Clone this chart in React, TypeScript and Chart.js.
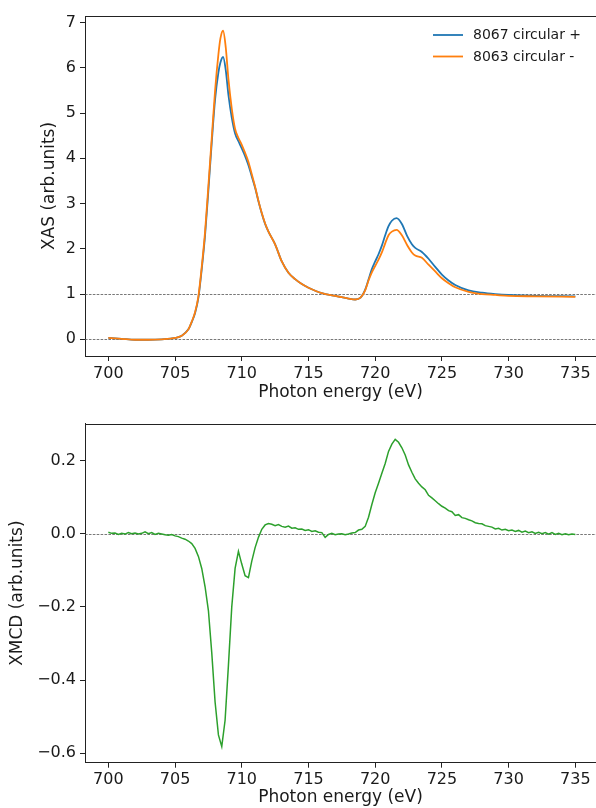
import { useEffect, useRef } from "react";
import { Chart, registerables } from "chart.js";

Chart.register(...registerables);
Chart.defaults.font.family = "'DejaVu Sans', sans-serif";
Chart.defaults.font.size = 16;
Chart.defaults.color = "#1a1a1a";

// ---------- data ----------
const xasEnergy = [
  700, 701, 702, 703, 704, 705, 705.5, 706, 706.25, 706.5, 706.75, 707, 707.25, 707.5, 707.75,
  708, 708.25, 708.4, 708.6, 708.8, 709, 709.25, 709.5, 709.75, 710, 710.25, 710.5, 710.75,
  711, 711.25, 711.5, 711.75, 712, 712.5, 713, 713.5, 714, 714.5, 715, 716, 717, 717.5, 718,
  718.5, 718.9, 719.25, 719.5, 719.75, 720, 720.25, 720.5, 720.75, 721, 721.25, 721.6, 722,
  722.4, 722.75, 723, 723.5, 724, 724.5, 725, 725.5, 726, 727, 728, 729, 730, 732, 735,
];
const xasPlus = [
  0.03, 0.01, -0.01, -0.01, 0.0, 0.03, 0.08, 0.22, 0.38, 0.58, 0.92, 1.55, 2.3, 3.3, 4.35,
  5.3, 5.9, 6.12, 6.24, 5.95, 5.4, 4.9, 4.55, 4.38, 4.22, 4.05, 3.85, 3.6,
  3.35, 3.05, 2.78, 2.55, 2.38, 2.1, 1.72, 1.47, 1.33, 1.22, 1.14, 1.02, 0.96, 0.93, 0.9,
  0.88, 0.92, 1.1, 1.32, 1.55, 1.72, 1.88, 2.07, 2.3, 2.5, 2.62, 2.68, 2.55,
  2.28, 2.1, 2.02, 1.93, 1.78, 1.6, 1.43, 1.3, 1.2, 1.08, 1.03, 1.0, 0.98, 0.96, 0.95,
];
const xasMinus = [
  0.03, 0.01, -0.01, -0.01, 0.0, 0.03, 0.08, 0.22, 0.39, 0.6, 0.95, 1.6, 2.38, 3.4, 4.45,
  5.5, 6.3, 6.65, 6.82, 6.45, 5.75, 5.1, 4.65, 4.45, 4.3, 4.12, 3.92, 3.65,
  3.37, 3.06, 2.79, 2.56, 2.38, 2.1, 1.72, 1.47, 1.33, 1.22, 1.14, 1.02, 0.96, 0.93, 0.9,
  0.88, 0.92, 1.08, 1.3, 1.48, 1.62, 1.76, 1.92, 2.12, 2.3, 2.38, 2.42, 2.3,
  2.08, 1.92, 1.85, 1.8, 1.65, 1.5, 1.35, 1.24, 1.15, 1.05, 1.0, 0.98, 0.96, 0.95, 0.94,
];

const xmcdEnergy = [
  700, 700.25, 700.5, 700.75, 701, 701.25, 701.5, 701.75, 702, 702.25, 702.5, 702.75,
  703, 703.25, 703.5, 703.75, 704, 704.25, 704.5, 704.75, 705, 705.25, 705.5, 705.75,
  706, 706.25, 706.5, 706.75, 707, 707.25, 707.5, 707.75, 708, 708.25, 708.5, 708.75,
  709, 709.25, 709.5, 709.75, 710, 710.25, 710.5, 710.75, 711, 711.25, 711.5, 711.75,
  712, 712.25, 712.5, 712.75, 713, 713.25, 713.5, 713.75, 714, 714.25, 714.5, 714.75,
  715, 715.25, 715.5, 715.75, 716, 716.25, 716.5, 716.75, 717, 717.25, 717.5, 717.75,
  718, 718.25, 718.5, 718.75, 719, 719.25, 719.5, 719.75, 720, 720.25, 720.5, 720.75,
  721, 721.25, 721.5, 721.75, 722, 722.25, 722.5, 722.75, 723, 723.25, 723.5, 723.75,
  724, 724.25, 724.5, 724.75, 725, 725.25, 725.5, 725.75, 726, 726.25, 726.5, 726.75,
  727, 727.25, 727.5, 727.75, 728, 728.25, 728.5, 728.75, 729, 729.25, 729.5, 729.75,
  730, 730.25, 730.5, 730.75, 731, 731.25, 731.5, 731.75, 732, 732.25, 732.5, 732.75,
  733, 733.25, 733.5, 733.75, 734, 734.25, 734.5, 734.75, 735,
];
const xmcdValues = [
  0.004, 0.001, 0.002, -0.002, 0.001, -0.001, 0.003, 0.0, 0.002, -0.001, 0.001, 0.005,
  0.0, 0.003, -0.002, 0.001, -0.001, -0.003, -0.004, -0.002, -0.006, -0.008, -0.012, -0.015,
  -0.02, -0.027, -0.04, -0.062, -0.095, -0.145, -0.21, -0.325, -0.46, -0.55, -0.582, -0.51,
  -0.36, -0.2, -0.095, -0.048, -0.083, -0.115, -0.12, -0.075, -0.038, -0.01, 0.012, 0.024,
  0.028, 0.026, 0.022, 0.025, 0.02, 0.018, 0.021, 0.015, 0.016, 0.012, 0.013, 0.009,
  0.011, 0.006, 0.008, 0.004, 0.003, -0.01, -0.002, 0.001, -0.003, -0.001, 0.0, -0.003,
  -0.001, 0.002, 0.003, 0.01, 0.012, 0.02, 0.045, 0.08, 0.112, 0.138, 0.165, 0.192,
  0.225, 0.245, 0.258, 0.25, 0.235, 0.215, 0.188, 0.168, 0.15, 0.138, 0.128, 0.12,
  0.105, 0.098, 0.09, 0.082, 0.075, 0.07, 0.063, 0.06, 0.05, 0.052, 0.044, 0.042,
  0.038, 0.035, 0.03, 0.028, 0.027, 0.022, 0.02, 0.018, 0.013, 0.015, 0.01, 0.012,
  0.008, 0.01, 0.006, 0.009, 0.004, 0.007, 0.003, 0.005, 0.001, 0.004, 0.0, 0.003,
  -0.001, 0.003, -0.002, 0.001, -0.003, 0.0, -0.003, -0.001, -0.002,
];

const xTicks = [700, 705, 710, 715, 720, 725, 730, 735];
const xasYTicks = [0, 1, 2, 3, 4, 5, 6, 7];
const xmcdYTicks = [-0.6, -0.4, -0.2, 0, 0.2];
const xasRefLevels = [0, 1];
const xmcdRefLevels = [0];
const xLimits = [698.25, 736.55];
const xasYLimits = [-0.369, 7.146];
const xmcdYLimits = [-0.626, 0.301];

const seriesLabels = ["8067 circular +", "8063 circular -"];
const BLUE = "#1f77b4";
const ORANGE = "#ff7f0e";
const GREEN = "#2ca02c";
const INK = "#1a1a1a";

const pts = (xs: number[], ys: number[]) => xs.map((x, i) => ({ x, y: ys[i] }));
const fmtMinus = (v: number, digits: number) => {
  const s = Math.abs(v).toFixed(digits);
  return v < -1e-9 ? "\u2212" + s : s;
};

function makePlugin(refLevels: number[], showLegend: boolean) {
  return {
    id: "mplFrame",
    beforeDatasetsDraw(chart: any) {
      const { ctx, chartArea, scales } = chart;
      ctx.save();
      ctx.strokeStyle = "#555";
      ctx.lineWidth = 0.8;
      ctx.setLineDash([2.6, 1.3]);
      refLevels.forEach((v) => {
        const y = Math.round(scales.y.getPixelForValue(v)) + 0.5;
        ctx.beginPath();
        ctx.moveTo(chartArea.left, y);
        ctx.lineTo(chartArea.right, y);
        ctx.stroke();
      });
      ctx.restore();
    },
    afterDraw(chart: any) {
      const { ctx, chartArea } = chart;
      ctx.save();
      ctx.strokeStyle = "#222";
      ctx.lineWidth = 1;
      const t = Math.round(chartArea.top) + 0.5;
      ctx.beginPath();
      ctx.moveTo(chartArea.left, t);
      ctx.lineTo(chartArea.right, t);
      ctx.stroke();
      if (showLegend) {
        ctx.font = "14px 'DejaVu Sans', sans-serif";
        ctx.textBaseline = "middle";
        ctx.textAlign = "left";
        chart.data.datasets.forEach((ds: any, i: number) => {
          const y = chartArea.top + 19 + i * 21.5;
          ctx.strokeStyle = ds.borderColor;
          ctx.lineWidth = 1.8;
          ctx.beginPath();
          ctx.moveTo(chartArea.right - 163, y);
          ctx.lineTo(chartArea.right - 133, y);
          ctx.stroke();
          ctx.fillStyle = INK;
          ctx.fillText(ds.label, chartArea.right - 123, y + 0.5);
        });
      }
      ctx.restore();
    },
  };
}

function makeScales(opts: {
  yTicks: number[];
  yLimits: number[];
  yTitle: string;
  yTitlePad: number;
  yFmt: (v: number) => string;
  xHeight: number;
  xTitlePad: number;
}) {
  return {
    x: {
      type: "linear" as const,
      min: xLimits[0],
      max: xLimits[1],
      afterBuildTicks: (s: any) => {
        s.ticks = xTicks.map((v) => ({ value: v }));
      },
      afterFit: (s: any) => {
        s.height = opts.xHeight;
      },
      grid: { drawOnChartArea: false, drawTicks: true, tickLength: 5, color: "#222", lineWidth: 1 },
      border: { display: true, color: "#222", width: 1 },
      ticks: { color: INK, padding: 3, maxRotation: 0, autoSkip: false, callback: (v: any) => String(v) },
      title: {
        display: true,
        text: "Photon energy (eV)",
        color: INK,
        font: { size: 17 },
        padding: { top: 0, bottom: opts.xTitlePad },
      },
    },
    y: {
      type: "linear" as const,
      min: opts.yLimits[0],
      max: opts.yLimits[1],
      afterBuildTicks: (s: any) => {
        s.ticks = opts.yTicks.map((v) => ({ value: v }));
      },
      afterFit: (s: any) => {
        s.width = 85;
      },
      grid: { drawOnChartArea: false, drawTicks: true, tickLength: 5, color: "#222", lineWidth: 1 },
      border: { display: true, color: "#222", width: 1 },
      ticks: { color: INK, padding: 4, autoSkip: false, callback: (v: any) => opts.yFmt(Number(v)) },
      title: {
        display: true,
        text: opts.yTitle,
        color: INK,
        font: { size: 17 },
        padding: { top: opts.yTitlePad, bottom: 0 },
      },
    },
  };
}

function XasChart() {
  const ref = useRef<HTMLCanvasElement | null>(null);
  useEffect(() => {
    if (!ref.current) return;
    const chart = new Chart(ref.current, {
      type: "line",
      data: {
        datasets: [
          {
            label: seriesLabels[0],
            data: pts(xasEnergy, xasPlus),
            borderColor: BLUE,
            borderWidth: 1.8,
            pointRadius: 0,
            cubicInterpolationMode: "monotone",
            order: 1,
          },
          {
            label: seriesLabels[1],
            data: pts(xasEnergy, xasMinus),
            borderColor: ORANGE,
            borderWidth: 1.8,
            pointRadius: 0,
            cubicInterpolationMode: "monotone",
            order: 0,
          },
        ],
      },
      options: {
        animation: false,
        responsive: false,
        layout: { padding: { top: 16, left: 0, right: 0, bottom: 0 } },
        plugins: { legend: { display: false }, tooltip: { enabled: false } },
        scales: makeScales({
          yTicks: xasYTicks,
          yLimits: xasYLimits,
          yTitle: "XAS (arb.units)",
          yTitlePad: 39.8,
          yFmt: (v) => fmtMinus(v, 0),
          xHeight: 54,
          xTitlePad: 6.8,
        }),
      } as any,
      plugins: [makePlugin(xasRefLevels, true)],
    });
    return () => chart.destroy();
  }, []);
  return <canvas ref={ref} width={596} height={410} style={{ display: "block" }} />;
}

function XmcdChart() {
  const ref = useRef<HTMLCanvasElement | null>(null);
  useEffect(() => {
    if (!ref.current) return;
    const chart = new Chart(ref.current, {
      type: "line",
      data: {
        datasets: [
          {
            label: "XMCD",
            data: pts(xmcdEnergy, xmcdValues),
            borderColor: GREEN,
            borderWidth: 1.5,
            pointRadius: 0,
            tension: 0,
          },
        ],
      },
      options: {
        animation: false,
        responsive: false,
        layout: { padding: { top: 11.7, left: 0, right: 0, bottom: 0 } },
        plugins: { legend: { display: false }, tooltip: { enabled: false } },
        scales: makeScales({
          yTicks: xmcdYTicks,
          yLimits: xmcdYLimits,
          yTitle: "XMCD (arb.units)",
          yTitlePad: 7.8,
          yFmt: (v) => fmtMinus(v, 1),
          xHeight: 45.3,
          xTitlePad: 0,
        }),
      } as any,
      plugins: [makePlugin(xmcdRefLevels, false)],
    });
    return () => chart.destroy();
  }, []);
  return <canvas ref={ref} width={596} height={398} style={{ display: "block" }} />;
}

export default function App() {
  return (
    <div
      style={{
        position: "fixed",
        left: 0,
        top: 0,
        width: 596,
        height: 808,
        background: "#fff",
        overflow: "hidden",
      }}
    >
      <div style={{ position: "absolute", left: 0, top: 0 }}>
        <XasChart />
      </div>
      <div style={{ position: "absolute", left: 0, top: 410 }}>
        <XmcdChart />
      </div>
    </div>
  );
}
